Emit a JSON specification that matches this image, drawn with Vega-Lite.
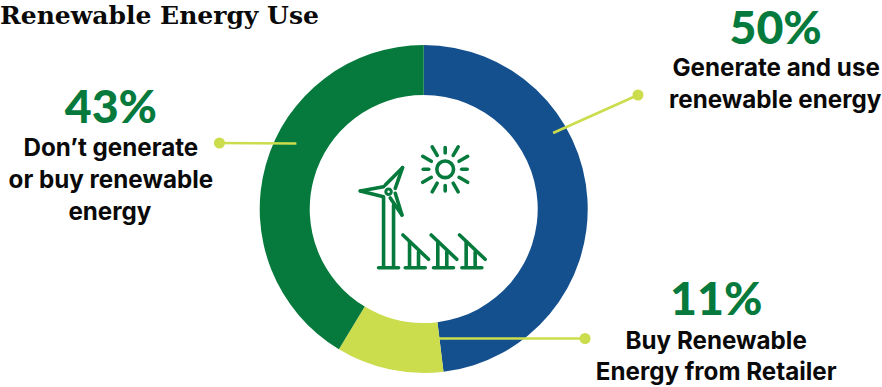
{"$schema":"https://vega.github.io/schema/vega-lite/v6.json","width":882,"height":387,"autosize":{"type":"fit","contains":"padding"},"padding":0,"background":"white","view":{"stroke":null},
"datasets":{
"shares":[{"name":"Generate and use renewable energy","pct":50,"ord":1},{"name":"Buy Renewable Energy from Retailer","pct":11,"ord":2},{"name":"Don't generate or buy renewable energy","pct":43,"ord":3}],
"leaders":[{"x":638.7,"y":95,"x2":553.7,"y2":133},{"x":219.7,"y":143,"x2":296.7,"y2":143.5},{"x":585.7,"y":338.5,"x2":437.7,"y2":338.5}],
"pcts":[{"t":"43%","x":111,"y":123},{"t":"50%","x":776.5,"y":44},{"t":"11%","x":717,"y":315}],
"labels":[{"t":"Don’t generate","x":111,"y":156},{"t":"or buy renewable","x":111,"y":188},{"t":"energy","x":110,"y":220},{"t":"Generate and use","x":777,"y":76},{"t":"renewable energy","x":776,"y":108},{"t":"Buy Renewable","x":717,"y":348.5},{"t":"Energy from Retailer","x":717,"y":380}],
"title":[{"t":"Renewable Energy Use","x":0,"y":24}],
"icon":[
{"x":445.7,"y":147.5,"x2":445.7,"y2":153},{"x":445.7,"y":185.5,"x2":445.7,"y2":191},{"x":423.7,"y":169.3,"x2":429.2,"y2":169.3},{"x":462.2,"y":169.3,"x2":467.7,"y2":169.3},
{"x":453.7,"y":155.4,"x2":458.7,"y2":146.8},{"x":437.7,"y":155.4,"x2":432.7,"y2":146.8},{"x":453.7,"y":183.2,"x2":458.7,"y2":191.8},{"x":437.7,"y":183.2,"x2":432.7,"y2":191.8},
{"x":459.6,"y":161.3,"x2":468.2,"y2":156.3},{"x":431.8,"y":161.3,"x2":423.2,"y2":156.3},{"x":459.6,"y":177.3,"x2":468.2,"y2":182.3},{"x":431.8,"y":177.3,"x2":423.2,"y2":182.3},
{"x":384,"y":198,"x2":384,"y2":267},{"x":394,"y":205,"x2":394,"y2":267},{"x":379,"y":267.7,"x2":399,"y2":267.7},
{"x":384,"y":186.7,"x2":360.7,"y2":191},{"x":360.7,"y":191,"x2":384,"y2":196.7},
{"x":385.7,"y":185,"x2":403,"y2":167.7},{"x":403,"y":167.7,"x2":395.7,"y2":188.3},
{"x":390.7,"y":198,"x2":402.4,"y2":215},{"x":402.4,"y":215,"x2":395.7,"y2":193.3},
{"x":403.4,"y":235,"x2":429,"y2":259.3},{"x":410,"y":241.7,"x2":410,"y2":267},{"x":419,"y":252,"x2":419,"y2":267},{"x":405.7,"y":267.7,"x2":425.7,"y2":267.7},
{"x":431.7,"y":235,"x2":457.3,"y2":259.3},{"x":438.3,"y":241.7,"x2":438.3,"y2":267},{"x":447.3,"y":252,"x2":447.3,"y2":267},{"x":434,"y":267.7,"x2":454,"y2":267.7},
{"x":460.1,"y":235,"x2":485.7,"y2":259.3},{"x":466.7,"y":241.7,"x2":466.7,"y2":267},{"x":475.7,"y":252,"x2":475.7,"y2":267},{"x":462.4,"y":267.7,"x2":482.4,"y2":267.7}
],
"rings":[{"x":445.7,"y":169.3,"r":"sun"},{"x":389,"y":191.7,"r":"hub"}]
},
"layer":[
{"data":{"name":"shares"},"mark":{"type":"arc","innerRadius":114,"outerRadius":164},
"encoding":{"x":{"datum":424.2,"type":"quantitative","scale":{"domain":[0,882],"nice":false,"zero":false},"axis":null},"y":{"datum":209,"type":"quantitative","scale":{"domain":[0,387],"reverse":true,"nice":false,"zero":false},"axis":null},
"theta":{"field":"pct","type":"quantitative","stack":true},"order":{"field":"ord"},
"color":{"field":"name","type":"nominal","legend":null,"scale":{"domain":["Generate and use renewable energy","Buy Renewable Energy from Retailer","Don't generate or buy renewable energy"],"range":["#15508E","#CBDC4C","#057A3C"]}}}},
{"data":{"name":"leaders"},"mark":{"type":"rule","color":"#CBDC4C","strokeWidth":2.5},
"encoding":{"x":{"field":"x","type":"quantitative"},"y":{"field":"y","type":"quantitative"},"x2":{"field":"x2"},"y2":{"field":"y2"}}},
{"data":{"name":"leaders"},"mark":{"type":"point","filled":true,"color":"#CBDC4C","size":121,"opacity":1},
"encoding":{"x":{"field":"x","type":"quantitative"},"y":{"field":"y","type":"quantitative"}}},
{"data":{"name":"icon"},"mark":{"type":"rule","color":"#057A3C","strokeWidth":3.6,"strokeCap":"round"},
"encoding":{"x":{"field":"x","type":"quantitative"},"y":{"field":"y","type":"quantitative"},"x2":{"field":"x2"},"y2":{"field":"y2"}}},
{"data":{"name":"rings"},"transform":[{"filter":"datum.r==='sun'"}],"mark":{"type":"point","stroke":"#057A3C","fill":null,"strokeWidth":3.6,"size":280,"opacity":1},
"encoding":{"x":{"field":"x","type":"quantitative"},"y":{"field":"y","type":"quantitative"}}},
{"data":{"name":"rings"},"transform":[{"filter":"datum.r==='hub'"}],"mark":{"type":"point","stroke":"#057A3C","fill":null,"strokeWidth":3,"size":30,"opacity":1},
"encoding":{"x":{"field":"x","type":"quantitative"},"y":{"field":"y","type":"quantitative"}}},
{"data":{"name":"pcts"},"mark":{"type":"text","font":"Lato","fontWeight":900,"fontSize":46.5,"color":"#057A3C","align":"center","baseline":"alphabetic"},
"encoding":{"x":{"field":"x","type":"quantitative"},"y":{"field":"y","type":"quantitative"},"text":{"field":"t"}}},
{"data":{"name":"labels"},"mark":{"type":"text","font":"Inter","fontWeight":700,"fontSize":24.2,"color":"#0A0A0A","align":"center","baseline":"alphabetic"},
"encoding":{"x":{"field":"x","type":"quantitative"},"y":{"field":"y","type":"quantitative"},"text":{"field":"t"}}},
{"data":{"name":"title"},"mark":{"type":"text","font":"DejaVu Serif","fontWeight":"bold","fontSize":25,"color":"#0A0A0A","align":"left","baseline":"alphabetic"},
"encoding":{"x":{"field":"x","type":"quantitative"},"y":{"field":"y","type":"quantitative"},"text":{"field":"t"}}}
]}
